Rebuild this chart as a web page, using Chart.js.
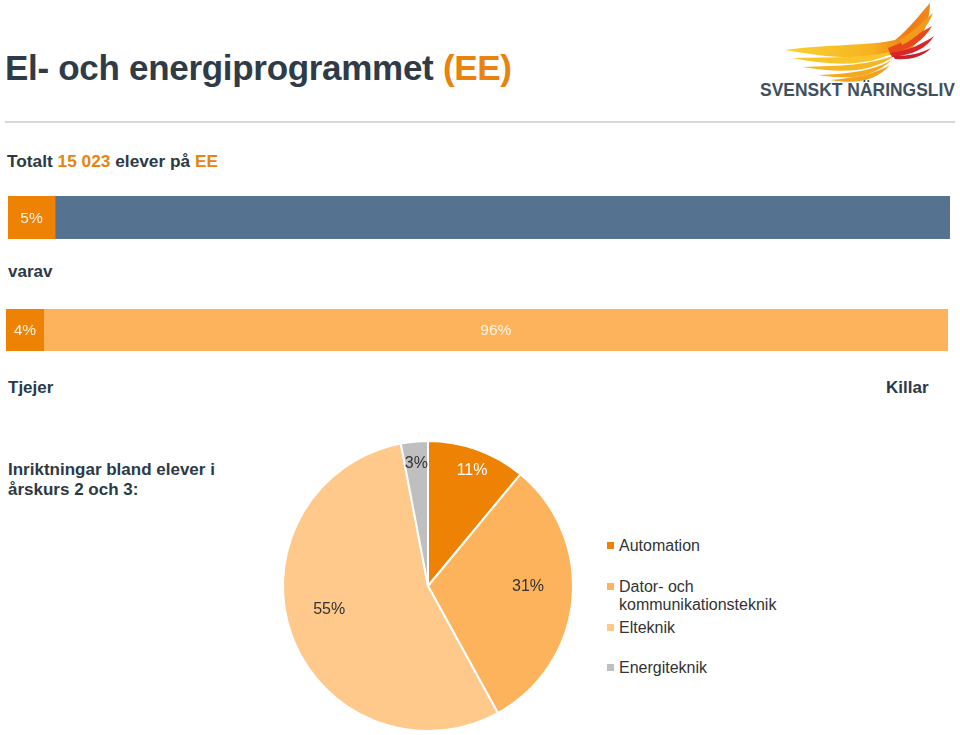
<!DOCTYPE html>
<html>
<head>
<meta charset="utf-8">
<script src="https://cdn.jsdelivr.net/npm/chart.js@4"></script>
<style>
  html,body{margin:0;padding:0;background:#fff;}
  body{width:960px;height:735px;position:relative;overflow:hidden;font-family:"Liberation Sans",Arial,sans-serif;color:#2d3944;}
  .abs{position:absolute;white-space:nowrap;}
  .title{left:5px;top:48px;font-size:35px;font-weight:bold;color:#2f3b46;letter-spacing:-0.3px;}
  .or{color:#e8830f;}
  .rule{left:5px;top:121px;width:950px;height:2px;background:#d3d8dc;}
  .sub{font-size:17.3px;font-weight:bold;}
  .lbl{font-size:17px;font-weight:bold;}
  .legend{position:absolute;left:607px;top:0;font-size:16px;color:#333;}
  .legend .it{position:absolute;white-space:nowrap;line-height:18px;}
  .legend .sw{position:absolute;left:0;width:7px;height:7px;}
  .legend .tx{position:absolute;left:12px;top:0;}
</style>
</head>
<body>
<div class="abs title">El- och energiprogrammet <span class="or">(EE)</span></div>
<svg class="abs" style="left:750px;top:0" width="210" height="110" viewBox="0 0 210 110">
  <defs>
    <linearGradient id="wg" x1="0" y1="0" x2="1" y2="0">
      <stop offset="0" stop-color="#f9d233"/>
      <stop offset="0.6" stop-color="#f7b21f"/>
      <stop offset="0.85" stop-color="#ef7a17"/>
      <stop offset="1" stop-color="#ef8a1a"/>
    </linearGradient>
  </defs>
  <path d="M35,50 C80,44 118,46 145,40 C160,28 170,14 180,3 C180,20 174,36 160,50 C130,60 90,60 35,50 Z" fill="url(#wg)"/>
  <path d="M42,58 C85,57 120,58 148,50 C120,66 90,67 42,58 Z" fill="#f8c62c"/>
  <path d="M52,67 C90,66 120,65 146,55 C122,72 95,74 52,67 Z" fill="#f6b523"/>
  <path d="M68,75 C100,74 125,70 142,60 C122,78 100,80 68,75 Z" fill="#f4a81f"/>
  <path d="M80,80 C105,78 125,74 140,65 C125,82 105,84 80,80 Z" fill="#f2a01e"/>
  <path d="M138,48 C152,43 167,35 182,26 C174,40 160,50 140,54 Z" fill="#e8471e"/>
  <path d="M140,53 C160,50 172,44 184,36 C177,48 163,55 142,57 Z" fill="#d9262a"/>
  <path d="M143,56 C160,56 172,53 181,48 C172,58 158,60 145,59 Z" fill="#c9202b"/>
  <path d="M150,40 C163,31 173,22 183,13 C178,27 167,38 152,45 Z" fill="#f29a1c"/>
  <text x="10" y="96" font-family="'Liberation Sans Narrow','Liberation Sans',Arial" font-weight="bold" font-size="18.5" fill="#3f5060" textLength="195" lengthAdjust="spacingAndGlyphs">SVENSKT NÄRINGSLIV</text>
</svg>
<div class="abs rule"></div>
<div class="abs sub" style="left:7px;top:151px;">Totalt <span class="or">15 023</span> elever på <span class="or">EE</span></div>
<div class="abs" style="left:8px;top:196px;width:942px;height:43px;"><canvas id="bar1"></canvas></div>
<div class="abs lbl" style="left:8px;top:262px;">varav</div>
<div class="abs" style="left:6px;top:309px;width:942px;height:42px;"><canvas id="bar2"></canvas></div>
<div class="abs lbl" style="left:8px;top:378px;">Tjejer</div>
<div class="abs lbl" style="left:886px;top:378px;">Killar</div>
<div class="abs lbl" style="left:8px;top:460px;line-height:20px;">Inriktningar bland elever i<br>årskurs 2 och 3:</div>
<div class="abs" style="left:278px;top:436px;width:300px;height:300px;"><canvas id="pie"></canvas></div>
<div id="legend" class="legend"></div>
<script>
// ---- data ----
const shareLabels = ['EE', 'Övriga'];
const shareValues = [5, 95];
const genderLabels = ['Tjejer', 'Killar'];
const genderValues = [4, 96];
const pieCategories = ['Automation', 'Dator- och kommunikationsteknik', 'Elteknik', 'Energiteknik'];
const pieValues = [11, 31, 55, 3];

// ---- styles ----
const shareColors = ['#ee8204', '#557391'];
const genderColors = ['#ee8204', '#fdb35b'];
const pieColors = ['#ee8204', '#fdb35b', '#fec98a', '#bfbfbf'];

const segLabelPlugin = {
  id: 'segLabels',
  afterDatasetsDraw(chart, args, opts) {
    const ctx = chart.ctx;
    ctx.save();
    ctx.font = '15.5px "Liberation Sans", Arial, sans-serif';
    ctx.textAlign = 'center';
    ctx.textBaseline = 'middle';
    chart.data.datasets.forEach((ds, i) => {
      if (!opts.show[i]) return;
      const meta = chart.getDatasetMeta(i);
      meta.data.forEach((el) => {
        const x = (el.base + el.x) / 2;
        ctx.fillStyle = opts.color;
        ctx.fillText(ds.data[0] + '%', x, el.y + 1);
      });
    });
    ctx.restore();
  }
};

function makeBar(id, labels, values, colors, show) {
  new Chart(document.getElementById(id), {
    type: 'bar',
    data: {
      labels: [''],
      datasets: labels.map((l, i) => ({
        label: l, data: [values[i]], backgroundColor: colors[i],
        barPercentage: 1, categoryPercentage: 1, borderWidth: 0
      }))
    },
    options: {
      indexAxis: 'y',
      responsive: true, maintainAspectRatio: false, animation: false,
      layout: { padding: 0 },
      scales: {
        x: { stacked: true, display: false, min: 0, max: 100 },
        y: { stacked: true, display: false }
      },
      plugins: { legend: { display: false }, tooltip: { enabled: false },
        segLabels: { show: show, color: '#fff3e3' } }
    },
    plugins: [segLabelPlugin]
  });
}
makeBar('bar1', shareLabels, shareValues, shareColors, [true, false]);
makeBar('bar2', genderLabels, genderValues, genderColors, [true, true]);

const pieLabelPlugin = {
  id: 'pieLabels',
  afterDatasetsDraw(chart, args, opts) {
    const ctx = chart.ctx;
    const meta = chart.getDatasetMeta(0);
    ctx.save();
    ctx.font = '16px "Liberation Sans", Arial, sans-serif';
    ctx.textAlign = 'center';
    ctx.textBaseline = 'middle';
    meta.data.forEach((arc, i) => {
      const p = arc.getProps(['x', 'y', 'startAngle', 'endAngle', 'outerRadius']);
      const a = (p.startAngle + p.endAngle) / 2 + opts.angleShift[i];
      const r = p.outerRadius * opts.radius[i];
      ctx.fillStyle = opts.colors[i];
      ctx.fillText(chart.data.datasets[0].data[i] + '%', p.x + Math.cos(a) * r, p.y + Math.sin(a) * r);
    });
    ctx.restore();
  }
};

new Chart(document.getElementById('pie'), {
  type: 'pie',
  data: {
    labels: pieCategories,
    datasets: [{ data: pieValues, backgroundColor: pieColors, borderColor: '#ffffff', borderWidth: 2 }]
  },
  options: {
    responsive: true, maintainAspectRatio: false, animation: false,
    layout: { padding: 4 },
    plugins: {
      legend: { display: false }, tooltip: { enabled: false },
      pieLabels: {
        radius: [0.85, 0.69, 0.70, 0.85],
        angleShift: [0.02, -0.085, 0.115, 0.0],
        colors: ['#ffffff', '#333333', '#333333', '#333333']
      }
    }
  },
  plugins: [pieLabelPlugin]
});

// HTML legend built from categories
const legendTops = [[537], [578, 596], [619], [659]];
const legendLines = [['Automation'], ['Dator- och', 'kommunikationsteknik'], ['Elteknik'], ['Energiteknik']];
const lg = document.getElementById('legend');
pieCategories.forEach((c, i) => {
  const it = document.createElement('div');
  it.className = 'it';
  it.style.top = legendTops[i][0] + 'px';
  const sw = document.createElement('div');
  sw.className = 'sw';
  sw.style.background = pieColors[i];
  sw.style.top = '5px';
  const tx = document.createElement('div');
  tx.className = 'tx';
  tx.innerHTML = legendLines[i].join('<br>');
  it.appendChild(sw); it.appendChild(tx);
  lg.appendChild(it);
});
</script>
</body>
</html>
